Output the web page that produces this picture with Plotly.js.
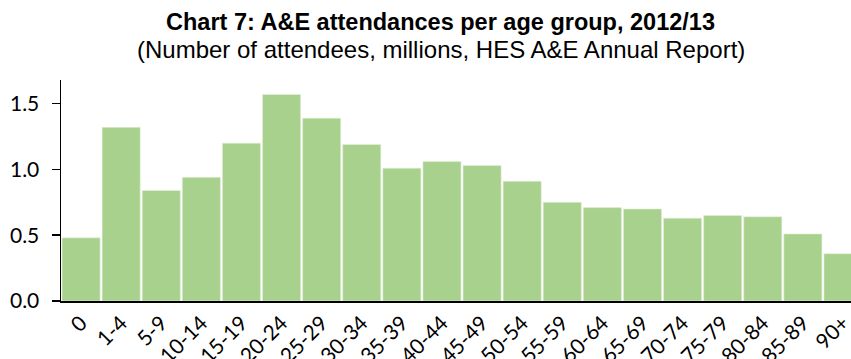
<!DOCTYPE html>
<html>
<head>
<meta charset="utf-8">
<script src="https://cdn.plot.ly/plotly-3.0.1.min.js"></script>
<style>
  html, body { margin: 0; padding: 0; background: #fff; overflow: hidden; }
  #chart { width: 851px; height: 359px; }
</style>
</head>
<body>
<div id="chart"></div>
<script>
// A&E attendances by age band, 2012/13 (millions)
const ageGroups = ["0", "1-4", "5-9", "10-14", "15-19", "20-24", "25-29", "30-34", "35-39", "40-44",
                   "45-49", "50-54", "55-59", "60-64", "65-69", "70-74", "75-79", "80-84", "85-89", "90+"];
const attendances = [0.48, 1.32, 0.84, 0.94, 1.20, 1.57, 1.39, 1.19, 1.01, 1.06,
                     1.03, 0.91, 0.75, 0.71, 0.70, 0.63, 0.65, 0.64, 0.51, 0.36];
const yTicks = [0, 0.5, 1.0, 1.5];
const yTickText = ["0.0", "0.5", "1.0", "1.5"];
const chartTitle = "Chart 7: A&E attendances per age group, 2012/13";
const chartSubtitle = "(Number of attendees, millions, HES A&E Annual Report)";

const labelFamily = "Lato, 'Open Sans', sans-serif";
const titleFamily = "'Liberation Sans', Arial, sans-serif";

const trace = {
  type: "bar",
  x: ageGroups.map((_, i) => i),
  y: attendances,
  marker: { color: "#a9d18e", line: { color: "#e4efda", width: 0.6 } },
  hoverinfo: "x+y"
};

const layout = {
  width: 851,
  height: 359,
  margin: { l: 61, r: 0, t: 80, b: 58 },
  paper_bgcolor: "#fff",
  plot_bgcolor: "#fff",
  bargap: 0.05,
  showlegend: false,
  annotations: [
    {
      text: "<b>" + chartTitle + "</b>",
      xref: "paper", yref: "paper",
      x: 0.481, y: 1.262, xanchor: "center", yanchor: "middle",
      showarrow: false,
      font: { family: titleFamily, size: 23.5, color: "#000" }
    },
    {
      text: chartSubtitle,
      xref: "paper", yref: "paper",
      x: 0.481, y: 1.136, xanchor: "center", yanchor: "middle",
      showarrow: false,
      font: { family: titleFamily, size: 24, color: "#000" }
    }
  ],
  xaxis: {
    range: [-0.5, 19.2],
    tickmode: "array",
    tickvals: ageGroups.map((_, i) => i),
    ticktext: ageGroups,
    tickangle: -45,
    tickfont: { family: labelFamily, size: 21, color: "#000" },
    ticklabeloverflow: "allow",
    ticklabelstandoff: 0,
    ticks: "",
    showline: true,
    linecolor: "#000",
    linewidth: 1.5,
    showgrid: false,
    zeroline: false,
    fixedrange: true
  },
  yaxis: {
    range: [0, 1.68],
    tickmode: "array",
    tickvals: yTicks,
    ticktext: yTickText,
    tickfont: { family: labelFamily, size: 21, color: "#000" },
    ticks: "outside",
    ticklen: 8,
    tickwidth: 1.5,
    tickcolor: "#000",
    ticklabelstandoff: 8,
    showline: true,
    linecolor: "#000",
    linewidth: 1.5,
    showgrid: false,
    zeroline: false,
    fixedrange: true
  }
};

Plotly.newPlot("chart", [trace], layout, { displayModeBar: false, staticPlot: true });
</script>
</body>
</html>
